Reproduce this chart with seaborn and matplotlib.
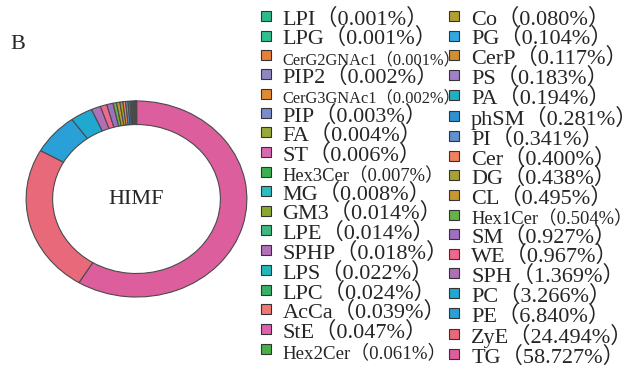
import matplotlib.pyplot as plt
import seaborn as sns
from matplotlib.lines import Line2D

# lipid classes in legend order (ascending share, %)
classes = ["LPI", "LPG", "CerG2GNAc1", "PIP2", "CerG3GNAc1", "PIP", "FA", "ST",
           "Hex3Cer", "MG", "GM3", "LPE", "SPHP", "LPS", "LPC", "AcCa", "StE",
           "Hex2Cer", "Co", "PG", "CerP", "PS", "PA", "phSM", "PI", "Cer", "DG",
           "CL", "Hex1Cer", "SM", "WE", "SPH", "PC", "PE", "ZyE", "TG"]
shares = [0.001, 0.001, 0.001, 0.002, 0.002, 0.003, 0.004, 0.006,
          0.007, 0.008, 0.014, 0.014, 0.018, 0.022, 0.024, 0.039, 0.047,
          0.061, 0.080, 0.104, 0.117, 0.183, 0.194, 0.281, 0.341, 0.400, 0.438,
          0.495, 0.504, 0.927, 0.967, 1.369, 3.266, 6.840, 24.494, 58.727]
colors = ["#2fb88a", "#2fbf90", "#e8803a", "#8f88c0", "#e08b30", "#7d8bcc", "#9aa83a", "#d868b0",
          "#3cb050", "#2abcc0", "#8aa830", "#3cb880", "#b070b8", "#20b8b8", "#38b068", "#f07870", "#e060b0",
          "#48b048", "#b0a030", "#30a8e0", "#d09030", "#a080c8", "#20b0c0", "#3090d0", "#6090d0", "#f08060", "#a8a030",
          "#c89830", "#68b048", "#a070c0", "#f06890", "#b070b8", "#20a8d0", "#2aa0d8", "#e86a7a", "#dc5e9c"]
small_font = {"CerG2GNAc1": 11.8, "CerG3GNAc1": 11.8, "Hex3Cer": 13.3, "Hex2Cer": 13.6, "Hex1Cer": 13.3}
sample = "HIMF"

sns.set_theme(style="white")
plt.rcParams['font.family'] = ['Liberation Serif', 'Noto Sans CJK SC']

fig = plt.figure(figsize=(6.29, 3.76), dpi=100)
W, H = 629, 376
# donut drawn descending, clockwise from the top
ax = fig.add_axes([25 / W, (H - 298) / H, 223 / W, 198 / H])
wedges, _ = ax.pie(shares[::-1], colors=colors[::-1], startangle=90, counterclock=False,
                   radius=1, wedgeprops=dict(width=0.24, edgecolor="#4a4a4a", linewidth=0.8))
ax.set_aspect('auto')
ax.set_xlim(-1.01, 1.01)
ax.set_ylim(-1.01, 1.01)
ax.text(0, 0, sample, ha="center", va="center", fontsize=16)

labels = [f"{c}（{v:.3f}%）" for c, v in zip(classes, shares)]
handles = [Line2D([], [], linestyle="", marker="s", markersize=7.5, markerfacecolor=col,
                  markeredgecolor="#333333", markeredgewidth=0.8) for col in colors]
leg = fig.legend(handles, labels, ncol=2, loc="upper left", bbox_to_anchor=(259 / W, 1 - 7 / H),
                 frameon=False, fontsize=16, handlelength=0.6, handleheight=1.0,
                 handletextpad=0.45, labelspacing=-0.125, columnspacing=-0.56, borderpad=0,
                 borderaxespad=0)
for t, c in zip(leg.get_texts(), classes):
    if c in small_font:
        t.set_fontsize(small_font[c])

fig.text(10 / W, 1 - 49 / H, "B", fontsize=16)

fig.savefig("out.png", dpi=100)
